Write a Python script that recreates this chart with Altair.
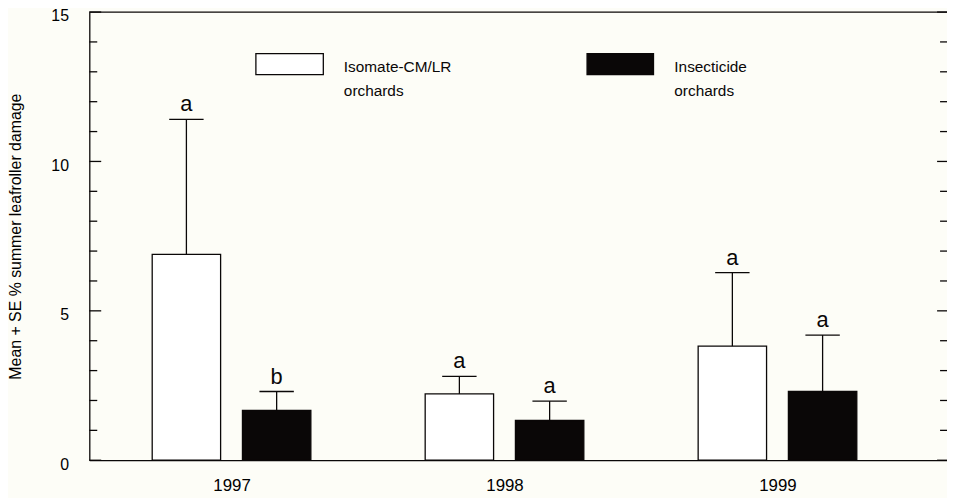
import altair as alt
import pandas as pd

# ---- data ----
years = ["1997", "1998", "1999"]
series = ["Isomate-CM/LR orchards", "Insecticide orchards"]
series_lines = [["Isomate-CM/LR", "orchards"], ["Insecticide", "orchards"]]
isomate_mean = [6.89, 2.22, 3.82]
isomate_upper = [11.41, 2.81, 6.28]
insect_mean = [1.67, 1.33, 2.30]
insect_upper = [2.30, 1.98, 4.19]
isomate_letters = ["a", "a", "a"]
insect_letters = ["b", "a", "a"]
y_major = [0, 5, 10, 15]
y_minor = [1, 2, 3, 4, 6, 7, 8, 9, 11, 12, 13, 14]

# ---- style / layout ----
W, H = 865, 452
FONT = "Liberation Sans"
BG = "#fdfdf7"
INK = "#0a0707"
fills = ["#ffffff", INK]
group_off = 0.1653
half_w = 0.1253
cap_half = 0.063
x_dom = [-0.521, 2.621]

rows = []
for si, (means, uppers, letters) in enumerate(
    [(isomate_mean, isomate_upper, isomate_letters),
     (insect_mean, insect_upper, insect_letters)]):
    for i, yr in enumerate(years):
        c = i + (-group_off if si == 0 else group_off)
        rows.append(dict(year=yr, series=series[si], c=c, l=c - half_w, r=c + half_w,
                         cl=c - cap_half, cr=c + cap_half,
                         mean=means[i], upper=uppers[i], letter=letters[i]))
df = pd.DataFrame(rows)

xscale = alt.Scale(domain=x_dom, nice=False, zero=False)
yscale = alt.Scale(domain=[0, 15], nice=False, zero=True)
label_expr = "[" + ",".join("'%s'" % y for y in years) + "][datum.value]"

xaxis = alt.Axis(values=[0, 1, 2], labelExpr=label_expr, ticks=False, tickSize=0,
                 labelPadding=18, labelFontSize=17, labelFont=FONT, labelColor="black",
                 domainColor=INK, domainWidth=1.3, grid=False, title=None)
yaxis = alt.Axis(values=y_major, ticks=False, tickSize=0, labelPadding=21, labelOffset=4,
                 labelFontSize=16, labelFont=FONT, labelColor="black",
                 domainColor=INK, domainWidth=1.3, grid=False,
                 title="Mean + SE % summer leafroller damage",
                 titleFont=FONT, titleFontSize=16, titleFontWeight="normal",
                 titleColor="black", titleAngle=-90, titleX=-69, titleY=H / 2,
                 titleAlign="center", titleBaseline="alphabetic")

base = alt.Chart(df)

bars = base.mark_bar(stroke=INK, strokeWidth=1.3).encode(
    x=alt.X("l:Q", scale=xscale, axis=xaxis),
    x2="r:Q",
    y=alt.Y("mean:Q", scale=yscale, axis=yaxis),
    y2=alt.datum(0),
    fill=alt.Fill("series:N", scale=alt.Scale(domain=series, range=fills), legend=None),
)

err = base.mark_rule(color=INK, strokeWidth=1.3).encode(
    x=alt.X("c:Q", scale=xscale, axis=xaxis),
    y=alt.Y("mean:Q", scale=yscale, axis=yaxis),
    y2="upper:Q",
)
caps = base.mark_rule(color=INK, strokeWidth=1.3).encode(
    x=alt.X("cl:Q", scale=xscale, axis=xaxis),
    x2="cr:Q",
    y=alt.Y("upper:Q", scale=yscale, axis=yaxis),
)
letters = base.mark_text(font=FONT, fontSize=22, color=INK, baseline="alphabetic",
                         align="center", dy=-8).encode(
    x=alt.X("c:Q", scale=xscale, axis=xaxis),
    y=alt.Y("upper:Q", scale=yscale, axis=yaxis),
    text="letter:N",
)

def tick_layer(vals, x1, x2):
    return alt.Chart(pd.DataFrame({"v": vals})).mark_rule(color=INK, strokeWidth=1.3).encode(
        x=alt.value(x1), x2=alt.value(x2),
        y=alt.Y("v:Q", scale=yscale, axis=yaxis),
    )

ticks = [
    tick_layer(y_major, 0, 12),
    tick_layer(y_minor, 0, 8),
    tick_layer(y_major, W - 10, W),
    tick_layer(y_minor, W - 7, W),
]

top_line = alt.Chart(pd.DataFrame({"k": [0]})).mark_rule(color=INK, strokeWidth=1.3).encode(
    x=alt.value(0), x2=alt.value(W), y=alt.value(0))

legend_layers = []
box_x = [(168, 236), (502, 569)]
text_x = [256.7, 590]
for si in range(len(series)):
    ld = pd.DataFrame({"series": [series[si]]})
    legend_layers.append(
        alt.Chart(ld).mark_rect(fill=fills[si], stroke=INK, strokeWidth=1.3).encode(
            x=alt.value(box_x[si][0]), x2=alt.value(box_x[si][1]),
            y=alt.value(42), y2=alt.value(63)))
    legend_layers.append(
        alt.Chart(ld).mark_text(text=series_lines[si], font=FONT, fontSize=15.5, color=INK,
                                align="left", baseline="alphabetic", lineHeight=24).encode(
            x=alt.value(text_x[si]), y=alt.value(60.7)))

chart = alt.layer(bars, err, caps, letters, *ticks, top_line, *legend_layers).properties(
    width=W, height=H,
    autosize=alt.AutoSizeParams(type="none"),
    padding={"left": 82, "top": 2, "right": 0, "bottom": 36},
    background=BG,
).configure_view(strokeOpacity=0)

chart.save("out.html", embed_options={"renderer": "svg", "actions": False})
